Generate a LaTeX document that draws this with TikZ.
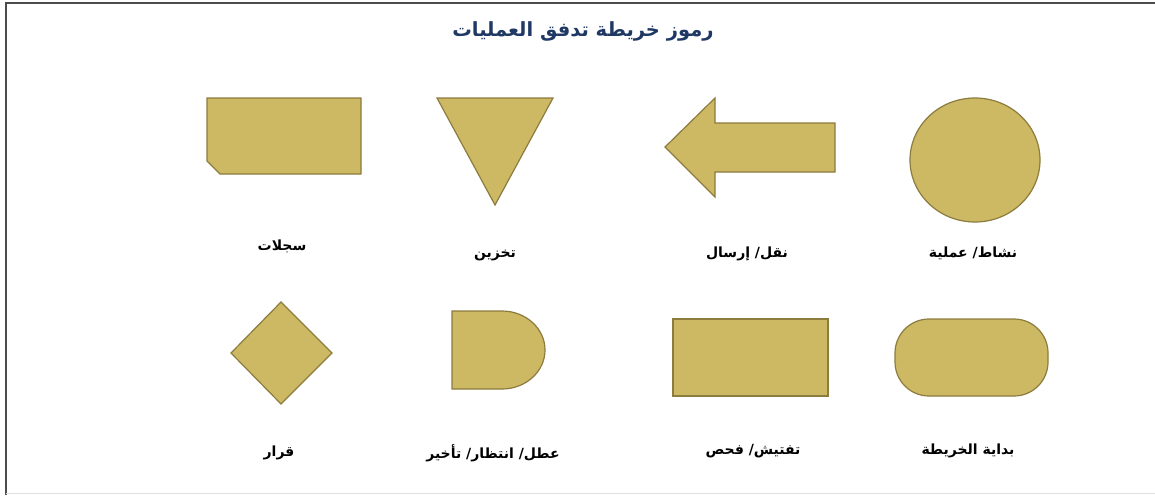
\documentclass[tikz,border=0pt]{standalone}
\usepackage{fontspec}
\newfontfamily\arabicfont[Script=Arabic]{DejaVu Sans}
\TeXXeTstate=1
\definecolor{shapefill}{RGB}{205,184,99}
\definecolor{shapeline}{RGB}{140,124,62}
\definecolor{titleblue}{RGB}{31,56,100}
\begin{document}
\begin{tikzpicture}[x=1pt,y=-1pt,
  sym/.style={fill=shapefill,draw=shapeline,line width=1.2pt,line join=miter},
  lbl/.style={font=\arabicfont\bfseries\fontsize{14}{16}\selectfont,text=black,inner sep=0pt},
  ttl/.style={font=\arabicfont\bfseries\fontsize{19.5}{22}\selectfont,text=titleblue,inner sep=0pt}]
\useasboundingbox (0,0) rectangle (1155,495);
\fill[white] (0,0) rectangle (1155,495);
% frame
\draw[line width=2pt,draw=black!70] (6,3.5) -- (1155,3.5);
\draw[line width=2.2pt,draw=black!70] (6,2.5) -- (6,495);
\draw[line width=1pt,draw=black!12] (6,493.5) -- (1155,493.5);
% title
\node[ttl] (title) at (583,31) {\beginR رموز خريطة تدفق العمليات\endR};
% row 1 shapes
\draw[sym] (207,98) -- (361,98) -- (361,174) -- (220,174) -- (207,161) -- cycle;
\draw[sym] (437,98) -- (553,98) -- (495,205) -- cycle;
\draw[sym] (665,147) -- (715,98) -- (715,123) -- (835,123) -- (835,172) -- (715,172) -- (715,197) -- cycle;
\draw[sym] (975,160) ellipse [x radius=65, y radius=62];
% row 1 labels
\node[lbl] (l1) at (282,246) {\beginR سجلات\endR};
\node[lbl] (l2) at (495,255) {\beginR تخزين\endR};
\node[lbl] (l3) at (747,254) {\beginR نقل/ إرسال\endR};
\node[lbl] (l4) at (973,253) {\beginR نشاط/ عملية\endR};
% row 2 shapes
\draw[sym] (281,302) -- (332,353) -- (281,404) -- (231,353) -- cycle;
\draw[sym] (452,311) -- (502,311) arc[start angle=-90, end angle=90, x radius=43, y radius=39] -- (452,389) -- cycle;
\draw[sym] (673,319) rectangle (828,396);
\draw[sym,rounded corners=34pt] (895,319) rectangle (1048,396);
% row 2 labels
\node[lbl] (l5) at (279,453) {\beginR قرار\endR};
\node[lbl] (l6) at (493,453) {\beginR عطل/ انتظار/ تأخير\endR};
\node[lbl] (l7) at (753,451) {\beginR تفتيش/ فحص\endR};
\node[lbl] (l8) at (968,451) {\beginR بداية الخريطة\endR};
\end{tikzpicture}
\end{document}
